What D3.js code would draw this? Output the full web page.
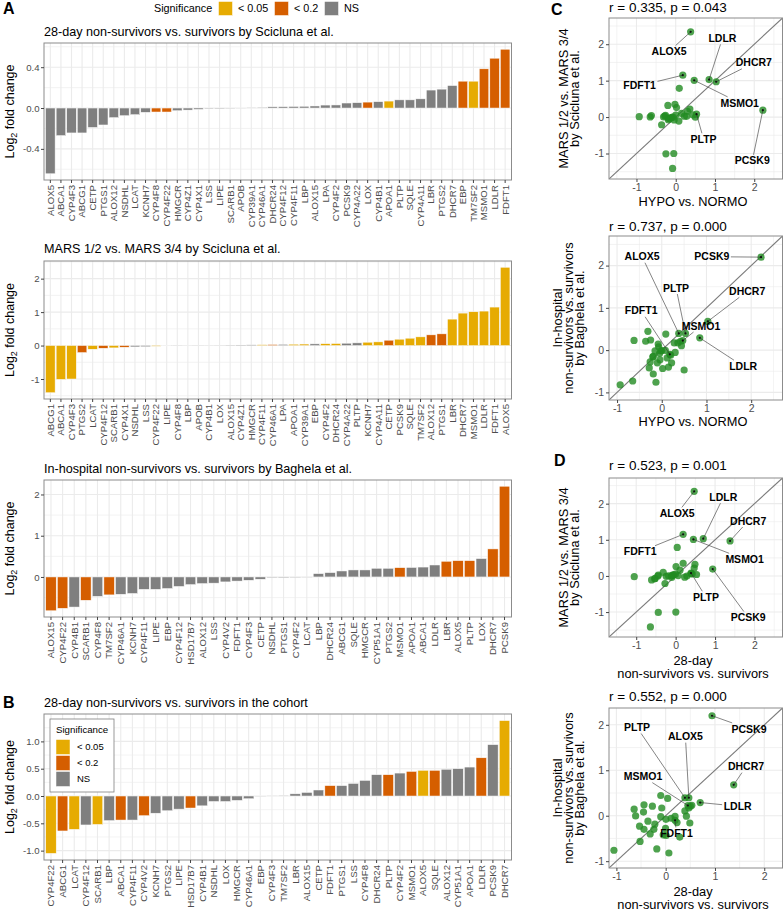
<!DOCTYPE html>
<html>
<head>
<meta charset="utf-8">
<script src="https://cdn.jsdelivr.net/npm/d3@7"></script>
<style>
  body { margin: 0; background: #fff; }
  svg { display: block; font-family: "Liberation Sans", Arial, Helvetica, sans-serif; }
</style>
</head>
<body>
<svg width="784" height="914"></svg>
<script>
// ---- data: log2 fold changes ----
// A1: 28-day non-survivors vs survivors (Scicluna)
var sciGenes = ["ALOX5","ABCA1","CYP4F3","ABCG1","CETP","PTGS1","ALOX12","NSDHL","LCAT","KCNH7","CYP4F8","CYP4F22","HMGCR","CYP4Z1","CYP4X1","LSS","LIPE","SCARB1","APOB","CYP39A1","CYP46A1","DHCR24","CYP4F12","CYP4F11","LBP","ALOX15","LPA","CYP4F2","PCSK9","CYP4A22","LOX","CYP4B1","APOA1","PLTP","SQLE","CYP4A11","LBR","PTGS2","DHCR7","EBP","TM7SF2","MSMO1","LDLR","FDFT1"];
var sciLfc = [-0.644,-0.27,-0.244,-0.244,-0.19,-0.166,-0.094,-0.075,-0.065,-0.042,-0.039,-0.039,-0.026,-0.02,-0.013,-0.008,-0.005,-0.003,-0.001,0.004,0.007,0.012,0.013,0.015,0.017,0.02,0.029,0.03,0.049,0.052,0.058,0.062,0.068,0.08,0.08,0.09,0.176,0.185,0.22,0.263,0.263,0.384,0.488,0.576];
var sciSig = ["ns","ns","ns","ns","ns","ns","ns","ns","ns","ns","p20","p20","ns","ns","ns","ns","ns","ns","ns","ns","ns","ns","ns","ns","ns","ns","ns","ns","ns","ns","p20","ns","p05","ns","ns","ns","ns","ns","ns","p20","p05","p20","p20","p20"];

// A2: MARS 1/2 vs MARS 3/4 (Scicluna)
var marsGenes = ["ABCG1","ABCA1","CYP4F3","PTGS2","LCAT","CYP4F12","SCARB1","CYP4X1","NSDHL","LSS","CYP4F22","LIPE","CYP4F8","LBP","APOB","CYP4B1","LOX","ALOX15","CYP4Z1","HMGCR","CYP4F11","CYP46A1","LPA","APOA1","CYP39A1","EBP","CYP4F2","DHCR24","CYP4A22","PLTP","KCNH7","CYP4A11","CETP","PCSK9","SQLE","TM7SF2","ALOX12","PTGS1","LBR","DHCR7","MSMO1","LDLR","FDFT1","ALOX5"];
var marsLfc = [-1.41,-1.01,-1.0,-0.21,-0.11,-0.08,-0.07,-0.05,-0.04,-0.035,-0.02,-0.01,-0.005,-0.002,0.0,0.003,0.005,0.01,0.015,0.02,0.025,0.03,0.035,0.04,0.045,0.05,0.055,0.06,0.07,0.08,0.1,0.11,0.16,0.19,0.22,0.26,0.32,0.35,0.79,0.97,1.01,1.03,1.15,2.34];
var marsSig = ["p05","p05","p05","p20","p05","p20","p05","p20","ns","ns","p05","ns","ns","ns","ns","ns","ns","ns","ns","ns","p05","p20","ns","p05","p05","ns","p05","p05","ns","ns","p05","p05","p20","p05","p05","p05","p20","p20","p05","p05","p05","p05","p05","p05"];

// A3: in-hospital non-survivors vs survivors (Baghela)
var baghelaGenes = ["ALOX15","CYP4F22","CYP4B1","SCARB1","CYP4F8","TM7SF2","CYP46A1","KCNH7","CYP4F11","LIPE","EBP","CYP4F12","HSD17B7","ALOX12","LSS","CYP4V2","FDFT1","CYP4F3","CETP","NSDHL","PTGS1","CYP4F2","LCAT","LBP","DHCR24","ABCG1","SQLE","HMGCR","CYP51A1","PTGS2","MSMO1","APOA1","ABCA1","LDLR","LBR","ALOX5","PLTP","LOX","DHCR7","PCSK9"];
var baghelaLfc = [-0.82,-0.76,-0.73,-0.565,-0.47,-0.435,-0.42,-0.40,-0.30,-0.30,-0.28,-0.23,-0.185,-0.16,-0.15,-0.12,-0.10,-0.08,-0.055,-0.02,-0.015,-0.01,-0.005,0.08,0.105,0.145,0.17,0.17,0.21,0.21,0.225,0.23,0.24,0.29,0.38,0.395,0.395,0.445,0.68,2.20];
var baghelaSig = ["p20","p20","ns","p20","ns","p20","ns","ns","ns","ns","ns","ns","ns","ns","ns","ns","ns","ns","ns","ns","ns","ns","ns","ns","ns","ns","ns","ns","ns","ns","p20","ns","ns","ns","p20","p20","p20","ns","p20","p20"];

// B: 28-day non-survivors vs survivors in the cohort
var cohortGenes = ["CYP4F22","ABCG1","LCAT","CYP4F12","SCARB1","LBP","ABCA1","CYP4F11","CYP4V2","KCNH7","PTGS2","LIPE","HSD17B7","CYP4B1","NSDHL","LOX","HMGCR","CYP46A1","EBP","CYP4F3","TM7SF2","LBR","ALOX15","CETP","FDFT1","PTGS1","LSS","CYP4F8","DHCR24","PLTP","CYP4F2","MSMO1","ALOX5","SQLE","ALOX12","CYP51A1","APOA1","LDLR","PCSK9","DHCR7"];
var cohortLfc = [-1.05,-0.64,-0.61,-0.53,-0.52,-0.45,-0.44,-0.44,-0.36,-0.315,-0.27,-0.24,-0.22,-0.18,-0.10,-0.10,-0.08,-0.05,-0.003,0.005,0.01,0.04,0.065,0.11,0.19,0.19,0.23,0.285,0.39,0.39,0.42,0.45,0.47,0.47,0.49,0.50,0.53,0.70,0.94,1.38];
var cohortSig = ["p05","p20","p05","ns","p05","ns","p20","ns","p20","ns","ns","ns","p20","ns","ns","ns","ns","ns","ns","ns","ns","ns","ns","ns","p20","ns","ns","ns","ns","p20","ns","p20","p05","p20","ns","ns","ns","p20","ns","p05"];

// HYPO vs NORMO (only shown as x of panel C)
var hypoGenes = ["ALOX15","CYP4F22","CYP4B1","SCARB1","CYP4F8","TM7SF2","CYP46A1","KCNH7","CYP4F11","LIPE","EBP","CYP4F12","HSD17B7","ALOX12","LSS","CYP4V2","FDFT1","CYP4F3","CETP","NSDHL","PTGS1","CYP4F2","LCAT","LBP","DHCR24","ABCG1","SQLE","HMGCR","CYP51A1","PTGS2","MSMO1","APOA1","ABCA1","LDLR","LBR","ALOX5","PLTP","LOX","DHCR7","PCSK9"];
var hypoLfc = [-0.93,-0.13,-0.65,-0.19,0.5,0.02,-0.28,0.15,0.22,-0.1,-0.26,-0.04,0.12,-0.2,-0.19,0.2,0.18,-0.05,0.3,-0.15,-0.02,0.0,0.08,-0.07,0.44,-0.08,0.36,0.28,0.42,-0.36,0.47,-0.62,-0.25,0.85,0.09,0.38,0.53,-0.31,1.03,2.22];

// tick labels
var sciTicks = [-0.4, 0.0, 0.4];
var marsTicks = [-1, 0, 1, 2];
var baghelaTicks = [-1, 0, 1, 2];
var cohortTicks = [-1.0, -0.5, 0.0, 0.5, 1.0];
var scatterTicks = [-1, 0, 1, 2];
var sigKeys = ["p05", "p20", "ns"];
var sigLabels = ["< 0.05", "< 0.2", "NS"];
var corrTitles = ["r = 0.335, p = 0.043", "r = 0.737, p = 0.000", "r = 0.523, p = 0.001", "r = 0.552, p = 0.000"];

var COL = { p05: "#E6AB02", p20: "#D55E00", ns: "#7F7F7F" };
var GRID = "#EBEBEB", BORDER = "#8C8C8C", TICKTXT = "#4D4D4D";

var svg = d3.select("svg");

function minorOf(ticks) {
  var step = ticks[1] - ticks[0], out = [];
  out.push(ticks[0] - step / 2);
  for (var i = 0; i < ticks.length; i++) out.push(ticks[i] + step / 2);
  return out;
}
function fmt(f) {
  return function(v) { return d3.format(f)(v).replace("\u2212", "-"); };
}

// ---- bar panels ----
var PL = 44, PR = 511.5;

function drawBars(p) {
  var x = d3.scaleBand().domain(p.genes).range([PL, PR]).paddingInner(0.1).paddingOuter(0.15);
  var ext = d3.extent(p.vals), pad = (ext[1] - ext[0]) * 0.05;
  var y = d3.scaleLinear().domain([ext[0] - pad, ext[1] + pad]).range([p.bottom, p.top]);
  var dom = y.domain();
  var g = svg.append("g");

  g.selectAll(".minor").data(minorOf(p.ticks).filter(function(v) { return v > dom[0] && v < dom[1]; }))
    .enter().append("line")
    .attr("x1", PL).attr("x2", PR).attr("y1", y).attr("y2", y)
    .attr("stroke", GRID).attr("stroke-width", 0.6);
  g.selectAll(".major").data(p.ticks.filter(function(v) { return v > dom[0] && v < dom[1]; }))
    .enter().append("line")
    .attr("x1", PL).attr("x2", PR).attr("y1", y).attr("y2", y)
    .attr("stroke", GRID).attr("stroke-width", 1.1);
  g.selectAll(".vgrid").data(p.genes).enter().append("line")
    .attr("x1", function(d) { return x(d) + x.bandwidth() / 2; })
    .attr("x2", function(d) { return x(d) + x.bandwidth() / 2; })
    .attr("y1", p.top).attr("y2", p.bottom)
    .attr("stroke", GRID).attr("stroke-width", 1.1);

  g.selectAll(".bar").data(p.genes).enter().append("rect")
    .attr("x", function(d) { return x(d); })
    .attr("width", x.bandwidth())
    .attr("y", function(d, i) { return Math.min(y(0), y(p.vals[i])); })
    .attr("height", function(d, i) { return Math.abs(y(p.vals[i]) - y(0)); })
    .attr("fill", function(d, i) { return COL[p.sig[i]]; })
    .attr("stroke", "#fafafa").attr("stroke-width", 0.5);

  g.append("rect").attr("x", PL).attr("y", p.top).attr("width", PR - PL).attr("height", p.bottom - p.top)
    .attr("fill", "none").attr("stroke", BORDER).attr("stroke-width", 1);

  var ya = g.append("g").attr("transform", "translate(" + PL + ",0)")
    .call(d3.axisLeft(y).tickValues(p.ticks.filter(function(v) { return v >= dom[0] && v <= dom[1]; }))
      .tickSize(3).tickPadding(1.5).tickFormat(fmt(p.format)));
  ya.select(".domain").remove();
  ya.selectAll("line").attr("stroke", "#444");
  ya.selectAll("text").attr("fill", TICKTXT).style("font-size", "9.6px").style("font-family", null);

  var xa = g.append("g").attr("transform", "translate(0," + p.bottom + ")")
    .call(d3.axisBottom(x).tickSize(3));
  xa.select(".domain").remove();
  xa.selectAll("line").attr("stroke", "#444");
  xa.selectAll("text")
    .attr("transform", "rotate(-90)").attr("text-anchor", "end")
    .attr("x", -5).attr("y", 0).attr("dy", "0.35em")
    .attr("fill", TICKTXT).style("font-size", "9.6px").style("font-family", null);

  g.append("text").attr("x", PL).attr("y", p.titleY).text(p.title)
    .style("font-size", "12.6px").attr("fill", "#000");

  var cy = (p.top + p.bottom) / 2;
  var yt = g.append("text").attr("transform", "translate(10," + cy + ") rotate(-90)")
    .attr("text-anchor", "middle").attr("dy", "0.35em").style("font-size", "12.5px");
  yt.append("tspan").text("Log");
  yt.append("tspan").text("2").attr("dy", "3").style("font-size", "9px");
  yt.append("tspan").text(" fold change").attr("dy", "-3");
}

drawBars({ genes: sciGenes, vals: sciLfc, sig: sciSig, ticks: sciTicks, format: ".1f",
  top: 43, bottom: 180, titleY: 35.5, title: "28-day non-survivors vs. survivors by Scicluna et al." });
drawBars({ genes: marsGenes, vals: marsLfc, sig: marsSig, ticks: marsTicks, format: "d",
  top: 261, bottom: 399, titleY: 252.8, title: "MARS 1/2 vs. MARS 3/4 by Scicluna et al." });
drawBars({ genes: baghelaGenes, vals: baghelaLfc, sig: baghelaSig, ticks: baghelaTicks, format: "d",
  top: 480, bottom: 617, titleY: 472.8, title: "In-hospital non-survivors vs. survivors by Baghela et al." });
drawBars({ genes: cohortGenes, vals: cohortLfc, sig: cohortSig, ticks: cohortTicks, format: ".1f",
  top: 714, bottom: 860, titleY: 706.5, title: "28-day non-survivors vs. survivors in the cohort" });

// ---- legends ----
var lg = svg.append("g");
lg.append("text").attr("x", 154).attr("y", 12).text("Significance").style("font-size", "10.8px");
var legX = [218.5, 274.5, 324.5];
sigKeys.forEach(function(k, i) {
  lg.append("rect").attr("x", legX[i]).attr("y", 1.5).attr("width", 14).attr("height", 14)
    .attr("fill", COL[k]).attr("stroke", "#fff").attr("stroke-width", 0.5);
  lg.append("text").attr("x", legX[i] + 19.5).attr("y", 12.3).text(sigLabels[i]).style("font-size", "10.8px");
});

var lb = svg.append("g");
lb.append("rect").attr("x", 50).attr("y", 719).attr("width", 64).attr("height", 73)
  .attr("fill", "#fff").attr("stroke", "#7F7F7F").attr("stroke-width", 0.8);
lb.append("text").attr("x", 56).attr("y", 732.8).text("Significance").style("font-size", "9.7px");
sigKeys.forEach(function(k, i) {
  var ky = 739.5 + i * 16;
  lb.append("rect").attr("x", 56).attr("y", ky).attr("width", 14).attr("height", 15)
    .attr("fill", COL[k]).attr("stroke", "#fff").attr("stroke-width", 0.5);
  lb.append("text").attr("x", 77).attr("y", ky + 7.5).attr("dy", "0.35em").text(sigLabels[i]).style("font-size", "9.5px");
});

// ---- scatter panels ----
function pair(xg, xv, yg, yv) {
  var out = [];
  xg.forEach(function(g, i) {
    var j = yg.indexOf(g);
    if (j >= 0) out.push({ gene: g, x: xv[i], y: yv[j] });
  });
  return out;
}

var SL = 609, SR = 782.5, clipN = 0;

function drawScatter(s) {
  var x = d3.scaleLinear().domain(s.dom).range([SL, SR]);
  var y = d3.scaleLinear().domain(s.dom).range([s.bottom, s.top]);
  var g = svg.append("g");
  var inDom = function(v) { return v > s.dom[0] && v < s.dom[1]; };
  var minor = minorOf(scatterTicks).concat([scatterTicks[scatterTicks.length - 1] + 1.5]).filter(inDom);
  var major = scatterTicks.filter(inDom);

  minor.forEach(function(v) {
    g.append("line").attr("x1", SL).attr("x2", SR).attr("y1", y(v)).attr("y2", y(v)).attr("stroke", GRID).attr("stroke-width", 0.6);
    g.append("line").attr("y1", s.top).attr("y2", s.bottom).attr("x1", x(v)).attr("x2", x(v)).attr("stroke", GRID).attr("stroke-width", 0.6);
  });
  major.forEach(function(v) {
    g.append("line").attr("x1", SL).attr("x2", SR).attr("y1", y(v)).attr("y2", y(v)).attr("stroke", GRID).attr("stroke-width", 1.1);
    g.append("line").attr("y1", s.top).attr("y2", s.bottom).attr("x1", x(v)).attr("x2", x(v)).attr("stroke", GRID).attr("stroke-width", 1.1);
  });

  var cid = "clip" + (clipN++);
  svg.append("clipPath").attr("id", cid).append("rect")
    .attr("x", SL).attr("y", s.top).attr("width", SR - SL).attr("height", s.bottom - s.top);
  var pg = g.append("g").attr("clip-path", "url(#" + cid + ")");

  pg.append("line").attr("x1", x(s.dom[0])).attr("y1", y(s.dom[0])).attr("x2", x(s.dom[1])).attr("y2", y(s.dom[1]))
    .attr("stroke", "#7a7a7a").attr("stroke-width", 1.1);

  pg.selectAll("circle.pt").data(s.points).enter().append("circle")
    .attr("cx", function(d) { return x(d.x); }).attr("cy", function(d) { return y(d.y); })
    .attr("r", 3.6).attr("fill", "#228B22").attr("fill-opacity", 0.8);

  s.labels.forEach(function(l) {
    var pt = s.points.filter(function(d) { return d.gene === l.gene; })[0];
    if (!pt) return;
    var px = x(pt.x), py = y(pt.y), lx = x(l.lx), ly = y(l.ly);
    var t = pg.append("text").attr("x", lx).attr("y", ly).attr("dy", "0.35em").attr("text-anchor", "middle")
      .style("font-size", "10.5px").style("font-weight", "bold").text(l.gene);
    var hw = t.node().getComputedTextLength() / 2 + 1.5, hh = 6;
    var dx = px - lx, dy = py - ly;
    var k = Math.min(dx !== 0 ? hw / Math.abs(dx) : Infinity, dy !== 0 ? hh / Math.abs(dy) : Infinity);
    if (k < 1) {
      pg.insert("line", "text").attr("x1", lx + dx * k).attr("y1", ly + dy * k).attr("x2", px).attr("y2", py)
        .attr("stroke", "#333").attr("stroke-width", 0.6);
    }
    pg.append("circle").attr("cx", px).attr("cy", py).attr("r", 1.1).attr("fill", "#111");
  });

  g.append("rect").attr("x", SL).attr("y", s.top).attr("width", SR - SL).attr("height", s.bottom - s.top)
    .attr("fill", "none").attr("stroke", BORDER).attr("stroke-width", 1);

  var ya = g.append("g").attr("transform", "translate(" + SL + ",0)")
    .call(d3.axisLeft(y).tickValues(major).tickSize(3).tickPadding(2).tickFormat(fmt("d")));
  ya.select(".domain").remove();
  ya.selectAll("line").attr("stroke", "#444");
  ya.selectAll("text").attr("fill", TICKTXT).style("font-size", "10.5px").style("font-family", null);
  var xa = g.append("g").attr("transform", "translate(0," + s.bottom + ")")
    .call(d3.axisBottom(x).tickValues(major).tickSize(3).tickPadding(2).tickFormat(fmt("d")));
  xa.select(".domain").remove();
  xa.selectAll("line").attr("stroke", "#444");
  xa.selectAll("text").attr("fill", TICKTXT).style("font-size", "10.5px").style("font-family", null);

  g.append("text").attr("x", SL).attr("y", s.titleY).text(s.title).style("font-size", "13.5px");

  s.xTitle.forEach(function(line, i) {
    g.append("text").attr("x", 693).attr("y", s.xTitleY + i * 13.3).attr("dy", "0.35em")
      .attr("text-anchor", "middle").style("font-size", "12.8px").text(line);
  });
  var cy = (s.top + s.bottom) / 2, n = s.yTitle.length;
  s.yTitle.forEach(function(line, i) {
    var cx = 569 + (i - (n - 1) / 2) * 11;
    g.append("text").attr("transform", "translate(" + cx + "," + cy + ") rotate(-90)")
      .attr("dy", "0.35em").attr("text-anchor", "middle").style("font-size", "12.8px").text(line);
  });
}

var marsTitle = ["MARS 1/2 vs. MARS 3/4", "by Scicluna et al."];
var baghelaTitle = ["In-hospital", "non-survivors vs. survivors", "by Baghela et al."];
var cohortTitle = ["28-day", "non-survivors vs. survivors"];

drawScatter({ points: pair(hypoGenes, hypoLfc, marsGenes, marsLfc), dom: [-1.7, 2.72], top: 18, bottom: 179,
  title: corrTitles[0], titleY: 12, xTitle: ["HYPO vs. NORMO"], xTitleY: 201.5, yTitle: marsTitle,
  labels: [
    { gene: "ALOX5", lx: -0.17, ly: 1.80 }, { gene: "LDLR", lx: 1.19, ly: 2.16 },
    { gene: "DHCR7", lx: 1.99, ly: 1.49 }, { gene: "FDFT1", lx: -0.92, ly: 0.86 },
    { gene: "MSMO1", lx: 1.63, ly: 0.39 }, { gene: "PLTP", lx: 0.71, ly: -0.61 },
    { gene: "PCSK9", lx: 1.95, ly: -1.2 }] });

drawScatter({ points: pair(hypoGenes, hypoLfc, baghelaGenes, baghelaLfc), dom: [-1.18, 2.70], top: 236, bottom: 400,
  title: corrTitles[1], titleY: 231, xTitle: ["HYPO vs. NORMO"], xTitleY: 421.5, yTitle: baghelaTitle,
  labels: [
    { gene: "ALOX5", lx: -0.44, ly: 2.21 }, { gene: "PCSK9", lx: 1.12, ly: 2.21 },
    { gene: "PLTP", lx: 0.32, ly: 1.47 }, { gene: "DHCR7", lx: 1.91, ly: 1.39 },
    { gene: "FDFT1", lx: -0.46, ly: 0.93 }, { gene: "MSMO1", lx: 0.88, ly: 0.57 },
    { gene: "LDLR", lx: 1.82, ly: -0.38 }] });

drawScatter({ points: pair(cohortGenes, cohortLfc, marsGenes, marsLfc), dom: [-1.69, 2.71], top: 478, bottom: 637,
  title: corrTitles[2], titleY: 470, xTitle: cohortTitle, xTitleY: 660.5, yTitle: marsTitle,
  labels: [
    { gene: "ALOX5", lx: 0.04, ly: 1.73 }, { gene: "LDLR", lx: 1.21, ly: 2.18 },
    { gene: "DHCR7", lx: 1.84, ly: 1.52 }, { gene: "FDFT1", lx: -0.90, ly: 0.67 },
    { gene: "MSMO1", lx: 1.75, ly: 0.46 }, { gene: "PLTP", lx: 0.77, ly: -0.59 },
    { gene: "PCSK9", lx: 1.84, ly: -1.15 }] });

drawScatter({ points: pair(cohortGenes, cohortLfc, baghelaGenes, baghelaLfc), dom: [-1.15, 2.37], top: 708, bottom: 868,
  title: corrTitles[3], titleY: 701, xTitle: cohortTitle, xTitleY: 891.5, yTitle: baghelaTitle,
  labels: [
    { gene: "PLTP", lx: -0.58, ly: 1.94 }, { gene: "ALOX5", lx: 0.40, ly: 1.74 },
    { gene: "PCSK9", lx: 1.69, ly: 1.91 }, { gene: "DHCR7", lx: 1.63, ly: 1.08 },
    { gene: "MSMO1", lx: -0.46, ly: 0.86 }, { gene: "LDLR", lx: 1.46, ly: 0.21 },
    { gene: "FDFT1", lx: 0.22, ly: -0.39 }] });

// ---- panel letters ----
[["A", 3, 14], ["B", 3, 708], ["C", 551, 15], ["D", 554, 466]].forEach(function(d) {
  svg.append("text").attr("x", d[1]).attr("y", d[2]).text(d[0])
    .style("font-size", "16px").style("font-weight", "bold");
});
</script>
</body>
</html>
